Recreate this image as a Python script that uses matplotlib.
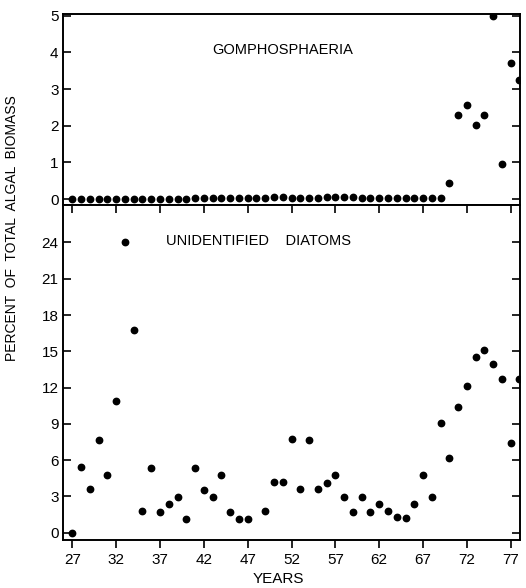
import numpy as np
import matplotlib.pyplot as plt
import matplotlib.lines as mlines

plt.rcParams['font.family'] = ['Liberation Sans', 'DejaVu Sans']

# Gomphosphaeria, years 27-78
years_top = list(range(27, 79))
gompho = [0, 0, 0, 0, 0, 0, 0, 0, 0, 0,
          0, 0, 0, 0, 0.02, 0.03, 0.03, 0.02, 0.03, 0.03,
          0.03, 0.03, 0.04, 0.05, 0.05, 0.04, 0.04, 0.04, 0.04, 0.05,
          0.05, 0.05, 0.05, 0.04, 0.04, 0.04, 0.03, 0.03, 0.03, 0.02,
          0.02, 0.02, 0.02, 0.45, 2.3, 2.57, 2.03, 2.3, 5.0, 0.95,
          3.7, 3.25]

# unidentified diatoms (48 missing)
years_bot = [27, 28, 29, 30, 31, 32, 33, 34, 35, 36, 37, 38, 39, 40, 41, 42, 43, 44, 45, 46, 47,
             49, 50, 51, 52, 53, 54, 55, 56, 57, 58, 59, 60, 61, 62, 63, 64, 65, 66, 67, 68,
             69, 70, 71, 72, 73, 74, 75, 76, 77, 78]
diatoms = [0, 5.4, 3.6, 7.7, 4.75, 10.9, 24.0, 16.8, 1.77, 5.36, 1.75, 2.35, 2.98, 1.13, 5.36, 3.53, 2.98, 4.75, 1.75, 1.13, 1.13,
           1.77, 4.2, 4.2, 7.75, 3.6, 7.7, 3.58, 4.1, 4.8, 2.98, 1.75, 2.98, 1.75, 2.4, 1.82, 1.27, 1.22, 2.4, 4.8, 2.98,
           9.08, 6.18, 10.38, 12.14, 14.5, 15.15, 13.97, 12.7, 7.4, 12.7]

xticks = [27, 32, 37, 42, 47, 52, 57, 62, 67, 72, 77]

fig = plt.figure(figsize=(5.26, 5.88), dpi=100)
ax1 = fig.add_axes([0.1192, 0.6514, 0.8694, 0.3248])
ax2 = fig.add_axes([0.1192, 0.0816, 0.8694, 0.5698])

for ax in (ax1, ax2):
    for s in ax.spines.values():
        s.set_linewidth(1.4)
    ax.set_xlim(25.9, 78.06)
    ax.set_xticks(xticks)

ax1.plot(years_top, gompho, 'o', color='black', ms=4.6)
ax1.set_ylim(-0.16, 5.05)
ax1.set_yticks([0, 1, 2, 3, 4, 5])
ax1.tick_params(axis='y', direction='in', left=True, right=True, length=6, width=1.2,
                labelsize=11, pad=3)
ax1.tick_params(axis='x', bottom=False, labelbottom=False)
ax1.text(51.0, 4.07, 'GOMPHOSPHAERIA', ha='center', va='center', fontsize=10.5)

ax2.plot(years_bot, diatoms, 'o', color='black', ms=4.6)
ax2.set_ylim(-0.6, 27.1)
ax2.set_yticks(range(0, 25, 3))
ax2.tick_params(axis='y', direction='in', left=True, right=True, length=6, width=1.2,
                labelsize=11, pad=3)
ax2.tick_params(axis='x', direction='in', top=True, bottom=True, length=6, width=1.2,
                labelsize=11, pad=9)
# bottom ticks point outward, top ticks inward
for t in ax2.xaxis.get_major_ticks():
    t.tick1line.set_marker(mlines.TICKDOWN)
ax2.text(37.7, 24.1, 'UNIDENTIFIED    DIATOMS', ha='left', va='center', fontsize=10.5)

fig.text(278 / 526, 1 - 579 / 588, 'YEARS', ha='center', va='center', fontsize=11)
fig.text(0.023, 0.612, 'PERCENT  OF  TOTAL  ALGAL  BIOMASS', rotation=90,
         ha='center', va='center', fontsize=10)

fig.savefig('out.png', dpi=100)
